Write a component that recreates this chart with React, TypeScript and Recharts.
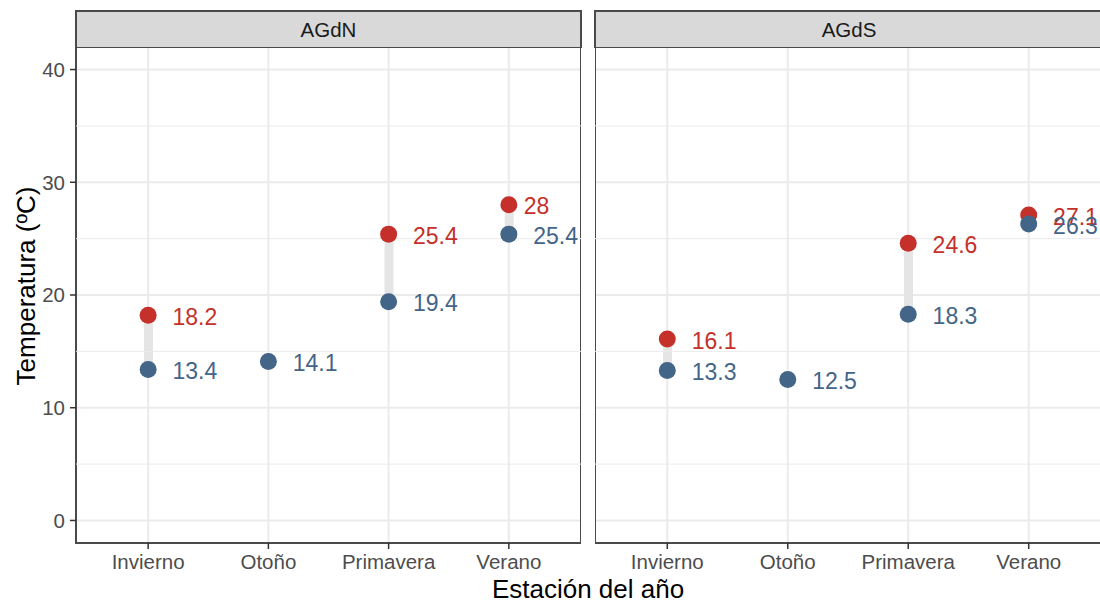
import React from 'react';
import {
  ComposedChart, XAxis, YAxis, CartesianGrid, Scatter, Bar, ReferenceLine, ReferenceArea,
} from 'recharts';

const categories = ['Invierno', 'Otoño', 'Primavera', 'Verano'];
const catPos = [1, 2, 3, 4];
const panels = ['AGdN', 'AGdS'];
const agdnMax: (number | null)[] = [18.2, null, 25.4, 28];
const agdnMin = [13.4, 14.1, 19.4, 25.4];
const agdsMax: (number | null)[] = [16.1, null, 24.6, 27.1];
const agdsMin = [13.3, 12.5, 18.3, 26.3];
const yTicks = [0, 10, 20, 30, 40];
const yMinor = [5, 15, 25, 35];
const yDomain: [number, number] = [-2, 42];
const xDomain: [number, number] = [0.4, 4.6];

const RED = '#c5302a';
const BLUE = '#436587';
const FONT = "'Liberation Sans', Arial, Helvetica, sans-serif";
const LABEL_SIZE = 23;
const TICK_SIZE = 20.5;

let ctx: CanvasRenderingContext2D | null = null;
function measure(t: string): number {
  if (!ctx) ctx = document.createElement('canvas').getContext('2d');
  if (!ctx) return t.length * LABEL_SIZE * 0.55;
  ctx.font = `${LABEL_SIZE}px ${FONT}`;
  return ctx.measureText(t).width;
}

function buildRows(maxs: (number | null)[], mins: number[]) {
  return categories.map((name, i) => ({
    x: catPos[i],
    name,
    max: maxs[i],
    min: mins[i],
    range: maxs[i] != null ? [mins[i], maxs[i] as number] : null,
  }));
}

const makeShape = (color: string, key: 'max' | 'min') => (props: any) => {
  const { cx, cy, payload } = props;
  const v = payload[key];
  if (v == null || cx == null || cy == null) return <g />;
  const label = String(v);
  const w = measure(label);
  return (
    <g>
      <circle cx={cx} cy={cy} r={8.5} fill={color} />
      <text
        x={cx + 0.5 * w + 2}
        y={cy}
        dy="0.42em"
        fill={color}
        fontSize={LABEL_SIZE}
        fontFamily={FONT}
        textAnchor="start"
      >
        {label}
      </text>
    </g>
  );
};

function Panel({ rows, showY, width }: { rows: any[]; showY: boolean; width: number }) {
  const maxRows = rows.filter((r) => r.max != null);
  return (
    <ComposedChart
      width={width}
      height={536}
      data={rows}
      margin={{ top: 0, right: 0, bottom: 0, left: 0 }}
    >
      <CartesianGrid stroke="#ebebeb" strokeWidth={2} />
      {yMinor.map((v) => (
        <ReferenceLine key={v} y={v} stroke="#ebebeb" strokeWidth={1} />
      ))}
      <XAxis
        dataKey="x"
        type="number"
        domain={xDomain}
        ticks={catPos}
        interval={0}
        allowDataOverflow
        tickFormatter={(v: number) => categories[v - 1]}
        axisLine={false}
        tickLine={{ stroke: '#333333', strokeWidth: 1.5 }}
        tickSize={6}
        tickMargin={5}
        height={40}
        tick={{ fill: '#4d4d4d', fontSize: TICK_SIZE, fontFamily: FONT }}
      />
      <YAxis
        type="number"
        domain={yDomain}
        ticks={yTicks}
        allowDataOverflow
        hide={!showY}
        width={76}
        axisLine={false}
        tickLine={{ stroke: '#333333', strokeWidth: 1.5 }}
        tickSize={6}
        tickMargin={5}
        tick={{ fill: '#4d4d4d', fontSize: TICK_SIZE, fontFamily: FONT }}
      />
      <Bar dataKey="range" barSize={9} fill="#e5e5e5" isAnimationActive={false} />
      <Scatter
        data={maxRows}
        dataKey="max"
        isAnimationActive={false}
        shape={makeShape(RED, 'max')}
      />
      <Scatter
        data={rows}
        dataKey="min"
        isAnimationActive={false}
        shape={makeShape(BLUE, 'min')}
      />
      <ReferenceArea
        x1={xDomain[0]}
        x2={xDomain[1]}
        y1={yDomain[0]}
        y2={yDomain[1]}
        fill="none"
        fillOpacity={0}
        stroke="#4a4a4a"
        strokeWidth={2}
        ifOverflow="visible"
      />
    </ComposedChart>
  );
}

const stripStyle = (left: number, width: number): React.CSSProperties => ({
  position: 'absolute',
  left,
  top: 10,
  width,
  height: 38,
  boxSizing: 'border-box',
  background: '#d9d9d9',
  border: '2px solid #4a4a4a',
  borderBottomWidth: 1,
  display: 'flex',
  alignItems: 'center',
  justifyContent: 'center',
  fontFamily: FONT,
  fontSize: TICK_SIZE,
  color: '#1a1a1a',
});

export default function App() {
  const rowsN = buildRows(agdnMax, agdnMin);
  const rowsS = buildRows(agdsMax, agdsMin);
  return (
    <div
      style={{
        position: 'absolute',
        left: 0,
        top: 0,
        width: 1100,
        height: 603,
        overflow: 'hidden',
        background: '#ffffff',
        fontFamily: FONT,
      }}
    >
      <div style={stripStyle(75, 507)}>{panels[0]}</div>
      <div style={stripStyle(594, 510)}>{panels[1]}</div>
      <div style={{ position: 'absolute', left: 0, top: 47 }}>
        <Panel rows={rowsN} showY width={581} />
      </div>
      <div style={{ position: 'absolute', left: 595, top: 47 }}>
        <Panel rows={rowsS} showY={false} width={506} />
      </div>
      <svg
        width={1100}
        height={603}
        style={{ position: 'absolute', left: 0, top: 0, pointerEvents: 'none' }}
      >
        <text
          x={588}
          y={598}
          textAnchor="middle"
          fontSize={26}
          fontFamily={FONT}
          fill="#000000"
        >
          Estación del año
        </text>
        <text
          x={35}
          y={286}
          transform="rotate(-90 35 286)"
          textAnchor="middle"
          fontSize={26}
          fontFamily={FONT}
          fill="#000000"
        >
          Temperatura (ºC)
        </text>
      </svg>
    </div>
  );
}
